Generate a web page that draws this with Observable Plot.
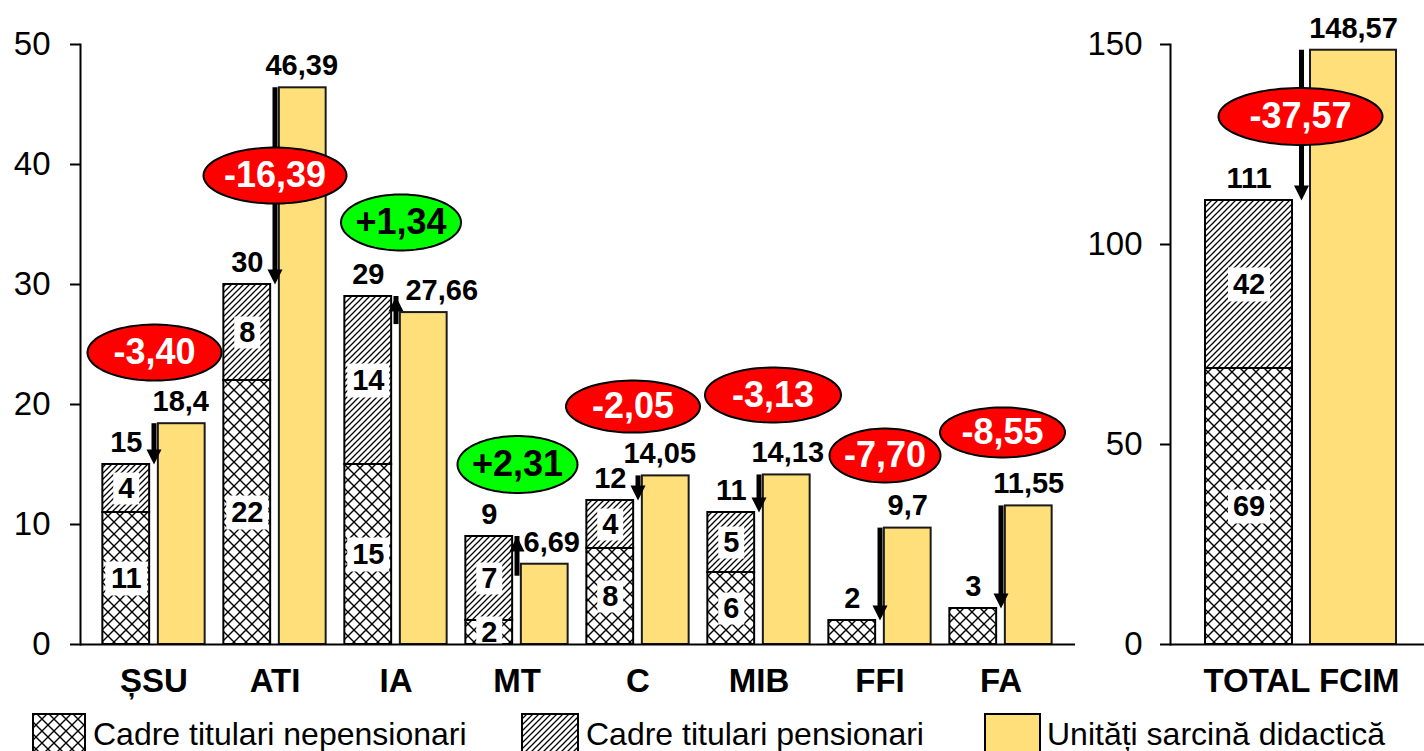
<!DOCTYPE html>
<html>
<head>
<meta charset="utf-8">
<script src="https://cdn.jsdelivr.net/npm/d3@7"></script>
<script src="https://cdn.jsdelivr.net/npm/@observablehq/plot@0.6"></script>
<style>
  html, body { margin: 0; padding: 0; background: #fff; overflow: hidden; }
  body { font-family: Arial, "Liberation Sans", sans-serif; }
  #wrap { position: relative; width: 1424px; height: 751px; }
  #left { position: absolute; left: 0; top: 0; }
  #right { position: absolute; left: 1076px; top: 0; }
  #legend { position: absolute; left: 0; top: 713px; }
</style>
</head>
<body>
<svg width="0" height="0" style="position:absolute">
  <defs>
    <pattern id="xhatch" patternUnits="userSpaceOnUse" width="12" height="12">
      <rect width="12" height="12" fill="#fff"/>
      <path d="M0,0L12,12M12,0L0,12" stroke="#000" stroke-width="1.4" fill="none"/>
    </pattern>
    <pattern id="dhatch" patternUnits="userSpaceOnUse" width="6" height="6">
      <rect width="6" height="6" fill="#fff"/>
      <path d="M-1,1L1,-1M0,6L6,0M5,7L7,5" stroke="#000" stroke-width="1.3" fill="none"/>
    </pattern>
  </defs>
</svg>
<div id="wrap">
  <div id="left"></div>
  <div id="right"></div>
  <div id="legend"></div>
</div>
<script>
// ---------- DATA ----------
const categories = ["ȘSU", "ATI", "IA", "MT", "C", "MIB", "FFI", "FA"];
const nepensionari = [11, 22, 15, 2, 8, 6, 2, 3];
const pensionari = [4, 8, 14, 7, 4, 5, 0, 0];
const unitati = [18.4, 46.39, 27.66, 6.69, 14.05, 14.13, 9.7, 11.55];

const totalCategory = ["TOTAL FCIM"];
const totalNepensionari = [69];
const totalPensionari = [42];
const totalUnitati = [148.57];

const leftTicks = [0, 10, 20, 30, 40, 50];
const rightTicks = [0, 50, 100, 150];
const seriesNames = ["Cadre titulari nepensionari", "Cadre titulari pensionari", "Unități sarcină didactică"];

// ---------- ANNOTATION LAYOUT (bubble placement, in data units / px offsets) ----------
const leftBubbleY = [24.33, 39.08, 35.17, 15.0, 19.83, 20.79, 15.75, 17.67];
const leftBubbleDx = [0.5, 0, 5, 0.5, -5, 14, 5, 1.5];
const leftBubbleRx = [67, 71.5, 60, 60, 67, 68, 55.5, 62.5];
const leftBubbleRy = [28, 28, 28, 28.5, 26, 27.5, 27, 25];
const leftUnitLabelShift = [-1, -1, 18, 7, -6, 1, 0, 0];
const rightBubbleY = [132];
const rightBubbleDx = [-1];
const rightBubbleRx = [82];
const rightBubbleRy = [28.5];
const rightUnitLabelShift = [0];

// ---------- STYLE ----------
const YELLOW = "#FFDF79";
const RED = "#FF0000";
const GREEN = "#00FF00";
const FONT = "Arial, 'Liberation Sans', sans-serif";

const fmtComma = v => String(v).replace(".", ",");
const fmtDiff = v => (v > 0 ? "+" : "") + v.toFixed(2).replace(".", ",");

function ellipseSymbol(rx, ry) {
  return {
    draw(ctx) {
      const n = 90;
      for (let k = 0; k < n; k++) {
        const a = 2 * Math.PI * k / n;
        const px = rx * Math.cos(a), py = ry * Math.sin(a);
        if (k === 0) ctx.moveTo(px, py); else ctx.lineTo(px, py);
      }
      ctx.closePath();
    }
  };
}
function rectSymbol(w, h) {
  return {
    draw(ctx) {
      ctx.moveTo(-w / 2, -h / 2); ctx.lineTo(w / 2, -h / 2);
      ctx.lineTo(w / 2, h / 2); ctx.lineTo(-w / 2, h / 2); ctx.closePath();
    }
  };
}
const downHead = { draw(ctx) { ctx.moveTo(0, 0); ctx.lineTo(-7.5, -15); ctx.lineTo(7.5, -15); ctx.closePath(); } };
const upHead = { draw(ctx) { ctx.moveTo(0, 0); ctx.lineTo(-7.5, 15); ctx.lineTo(7.5, 15); ctx.closePath(); } };

function panel(cfg) {
  const rows = cfg.cats.map((c, i) => ({
    cat: c,
    nep: cfg.nep[i],
    pens: cfg.pens[i],
    total: cfg.nep[i] + cfg.pens[i],
    unit: cfg.unit[i],
    diff: cfg.nep[i] + cfg.pens[i] - cfg.unit[i],
    i
  }));
  const segs = [];
  rows.forEach(d => {
    if (d.pens > 0) {
      segs.push({cat: d.cat, y: d.nep / 2, label: String(d.nep)});
      segs.push({cat: d.cat, y: d.nep + d.pens / 2, label: String(d.pens)});
    }
  });
  const down = rows.filter(d => d.diff < 0);
  const up = rows.filter(d => d.diff > 0);

  const marks = [
    Plot.barY(rows, {x: "cat", y1: d => 0, y2: "nep", fill: "url(#xhatch)", stroke: "#000", strokeWidth: 2,
      insetLeft: cfg.stackInset[0], insetRight: cfg.stackInset[1]}),
    Plot.barY(rows.filter(d => d.pens > 0), {x: "cat", y1: "nep", y2: "total", fill: "url(#dhatch)", stroke: "#000", strokeWidth: 2,
      insetLeft: cfg.stackInset[0], insetRight: cfg.stackInset[1]}),
    Plot.barY(rows, {x: "cat", y1: d => 0, y2: "unit", fill: YELLOW, stroke: "#1a1a1a", strokeWidth: 2,
      insetLeft: cfg.unitInset[0], insetRight: cfg.unitInset[1]}),
    // white label boxes inside stacked segments
    Plot.dot(segs.filter(d => d.label.length === 1), {x: "cat", y: "y", dx: cfg.stackDx, symbol: rectSymbol(26, 32), fill: "#fff", stroke: "none"}),
    Plot.dot(segs.filter(d => d.label.length > 1), {x: "cat", y: "y", dx: cfg.stackDx, symbol: rectSymbol(42, 34), fill: "#fff", stroke: "none"}),
    Plot.text(segs, {x: "cat", y: "y", dx: cfg.stackDx, text: "label", fontSize: 29, fontWeight: "bold", fill: "#000"}),
    // arrows: from yellow height to stacked total
    Plot.ruleX(down, {x: "cat", y1: "unit", y2: "total", stroke: "#000", strokeWidth: 5, insetBottom: 12, dx: cfg.arrowDx}),
    Plot.ruleX(up, {x: "cat", y1: "unit", y2: "total", stroke: "#000", strokeWidth: 5, insetTop: 12, dx: cfg.arrowDx}),
    Plot.dot(down, {x: "cat", y: "total", dx: cfg.arrowDx, symbol: downHead, fill: "#000", stroke: "none"}),
    Plot.dot(up, {x: "cat", y: "total", dx: cfg.arrowDx, symbol: upHead, fill: "#000", stroke: "none"}),
    // stacked total labels
    Plot.text(rows, {x: "cat", y: "total", dx: cfg.stackDx, dy: -22, text: d => String(d.total), fontSize: 29, fontWeight: "bold", fill: "#000"})
  ];
  // yellow value labels (per-row shift)
  rows.forEach(d => {
    marks.push(Plot.text([d], {x: "cat", y: "unit", dx: cfg.unitDx + cfg.unitShift[d.i], dy: -22, text: r => fmtComma(r.unit),
      fontSize: 29, fontWeight: "bold", fill: "#000"}));
  });
  // bubbles
  rows.forEach(d => {
    const b = {cat: d.cat, y: cfg.bubbleY[d.i], label: fmtDiff(d.diff), neg: d.diff < 0};
    marks.push(Plot.dot([b], {x: "cat", y: "y", dx: cfg.bubbleDx[d.i],
      symbol: ellipseSymbol(cfg.bubbleRx[d.i], cfg.bubbleRy[d.i]),
      fill: b.neg ? RED : GREEN, stroke: "#000", strokeWidth: 2}));
    marks.push(Plot.text([b], {x: "cat", y: "y", dx: cfg.bubbleDx[d.i], text: "label",
      fill: b.neg ? "#fff" : "#000", fontSize: 36, fontWeight: "bold"}));
  });
  // axes
  marks.push(Plot.ruleY([0], {stroke: "#000", strokeWidth: 2}));
  marks.push(Plot.frame({anchor: "left", stroke: "#000", strokeWidth: 2}));
  marks.push(Plot.axisY({ticks: cfg.ticks, tickSize: 10, tickPadding: cfg.tickPadding, fontSize: 33, strokeWidth: 2, label: null, tickFormat: d => String(d)}));
  marks.push(Plot.axisX({tickSize: 0, tickPadding: 24, fontSize: 33, fontWeight: "bold", label: null}));

  return Plot.plot({
    width: cfg.width,
    height: 705,
    marginLeft: cfg.marginLeft,
    marginRight: cfg.marginRight,
    marginTop: 44,
    marginBottom: 61,
    x: {domain: cfg.cats, range: cfg.range, padding: 0},
    y: {domain: [0, cfg.yMax]},
    style: {fontFamily: FONT, color: "#000", background: "transparent", overflow: "visible"},
    marks
  });
}

const leftChart = panel({
  cats: categories, nep: nepensionari, pens: pensionari, unit: unitati,
  ticks: leftTicks, yMax: 50, width: 1076, marginLeft: 80, marginRight: 1,
  range: [90.65, 1064.25], stackInset: [9.35, 64.85], unitInset: [64.85, 9.35],
  stackDx: -27.75, unitDx: 27.75, arrowDx: 0, tickPadding: 20,
  bubbleY: leftBubbleY, bubbleDx: leftBubbleDx, bubbleRx: leftBubbleRx, bubbleRy: leftBubbleRy,
  unitShift: leftUnitLabelShift
});
document.getElementById("left").appendChild(leftChart);

const rightChart = panel({
  cats: totalCategory, nep: totalNepensionari, pens: totalPensionari, unit: totalUnitati,
  ticks: rightTicks, yMax: 150, width: 348, marginLeft: 94, marginRight: 0,
  range: [102, 348], stackInset: [27, 132], unitInset: [132, 28],
  stackDx: -52.5, unitDx: 52, arrowDx: 0, tickPadding: 18,
  bubbleY: rightBubbleY, bubbleDx: rightBubbleDx, bubbleRx: rightBubbleRx, bubbleRy: rightBubbleRy,
  unitShift: rightUnitLabelShift
});
document.getElementById("right").appendChild(rightChart);

// ---------- LEGEND ----------
const legendItems = [
  {name: seriesNames[0], fill: "url(#xhatch)", sx: 33, sw: 52, tx: 93},
  {name: seriesNames[1], fill: "url(#dhatch)", sx: 522, sw: 56, tx: 586},
  {name: seriesNames[2], fill: YELLOW, sx: 985, sw: 55, tx: 1047}
];
const lg = d3.select("#legend").append("svg").attr("width", 1424).attr("height", 38)
  .style("font-family", FONT).style("overflow", "visible");
legendItems.forEach(it => {
  lg.append("rect").attr("x", it.sx).attr("y", 1).attr("width", it.sw).attr("height", 46)
    .attr("fill", it.fill).attr("stroke", "#000").attr("stroke-width", 2);
  lg.append("text").attr("x", it.tx).attr("y", 32).attr("font-size", 32).attr("fill", "#000").text(it.name);
});
</script>
</body>
</html>
